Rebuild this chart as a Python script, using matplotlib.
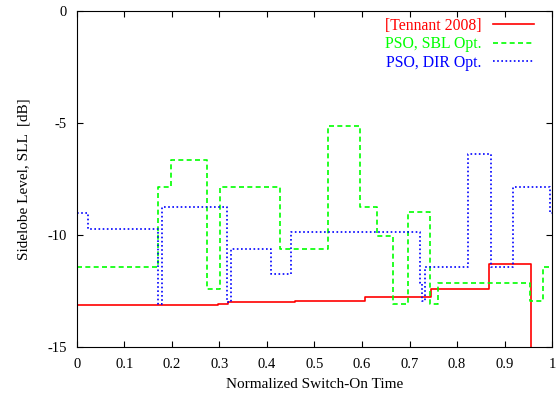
import matplotlib
matplotlib.use("Agg")
import matplotlib.pyplot as plt
import numpy as np

plt.rcParams['font.family'] = ['Liberation Serif', 'DejaVu Serif']
plt.rcParams['mathtext.fontset'] = 'stix'

# Switch-on time edges and sidelobe levels (step, post)
tennant_x = [0, 0.297, 0.319, 0.46, 0.606, 0.746, 0.868, 0.956]
tennant_y = [-13.12, -13.08, -13.03, -12.96, -12.79, -12.41, -11.31, -15.0]

sbl_x = [0, 0.170, 0.198, 0.274, 0.302, 0.427, 0.528, 0.596, 0.632, 0.665,
         0.696, 0.744, 0.760, 0.953, 0.981, 1.0]
sbl_y = [-11.43, -7.86, -6.67, -12.41, -7.86, -10.62, -5.15, -8.75, -10.06,
         -13.09, -9.0, -13.09, -12.17, -12.95, -11.43, -11.43]

dir_x = [0, 0.024, 0.171, 0.180, 0.316, 0.325, 0.408, 0.451, 0.721, 0.726,
         0.732, 0.824, 0.872, 0.918, 0.996, 1.0]
dir_y = [-9.02, -9.75, -13.08, -8.75, -13.03, -10.64, -11.74, -9.88, -12.17,
         -12.95, -11.43, -6.38, -11.43, -7.86, -9.05, -9.05]

labels = ['[Tennant 2008]', 'PSO, SBL Opt.', 'PSO, DIR Opt.']
xticks = [0, 0.1, 0.2, 0.3, 0.4, 0.5, 0.6, 0.7, 0.8, 0.9, 1.0]
xticklabels = ['0', '0.1', '0.2', '0.3', '0.4', '0.5', '0.6', '0.7', '0.8', '0.9', '1']
yticks = [0, -5, -10, -15]
yticklabels = ['0', '-5', '-10', '-15']

fig = plt.figure(figsize=(5.6, 4.03), dpi=100)
ax = fig.add_axes([0.137, 0.140, 0.849, 0.833])

ax.step(tennant_x, tennant_y, where='post', color='#ff0000', lw=1.2,
        linestyle='-', label=labels[0])
ax.step(sbl_x, sbl_y, where='post', color='#00ff00', lw=1.2,
        linestyle=(0, (3, 2)), label=labels[1])
ax.step(dir_x, dir_y, where='post', color='#0000ff', lw=1.2,
        linestyle=(0, (1, 1.5)), label=labels[2])

ax.set_xlim(0, 1)
ax.set_ylim(-15, 0)
ax.set_xticks(xticks)
ax.set_xticklabels(xticklabels)
ax.set_yticks(yticks)
ax.set_yticklabels(yticklabels)
ax.tick_params(direction='in', top=True, right=True, length=4, labelsize=10.5)
ax.tick_params(axis='x', pad=8.5)
ax.tick_params(axis='y', pad=7)
ax.set_xlabel('Normalized Switch-On Time', fontsize=11, labelpad=5)
ax.set_ylabel('Sidelobe Level, SLL  [dB]', fontsize=11, labelpad=12)

leg = ax.legend(loc='upper right', frameon=False, markerfirst=False,
                labelcolor='linecolor', fontsize=11.3, handlelength=2.65,
                handletextpad=0.7, labelspacing=0.16, borderaxespad=0.0,
                borderpad=0.0, bbox_to_anchor=(0.962, 0.979))

fig.savefig('out.png', dpi=100)
